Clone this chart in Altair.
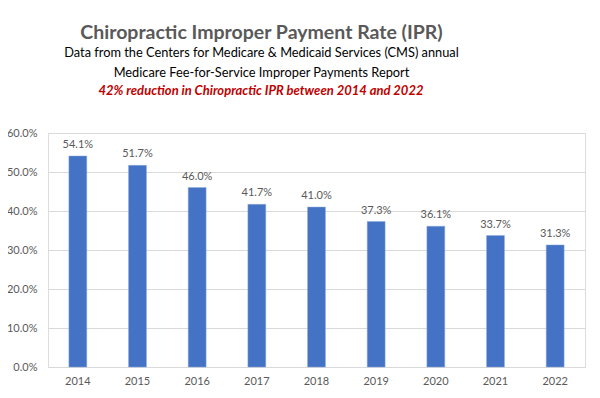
import altair as alt
import pandas as pd

years = ["2014", "2015", "2016", "2017", "2018", "2019", "2020", "2021", "2022"]
rates = [0.541, 0.517, 0.460, 0.417, 0.410, 0.373, 0.361, 0.337, 0.313]
labels = ["54.1%", "51.7%", "46.0%", "41.7%", "41.0%", "37.3%", "36.1%", "33.7%", "31.3%"]

title_text = "Chiropractic Improper Payment Rate (IPR)"
subtitle_lines = [
    "Data from the Centers for Medicare & Medicaid Services (CMS) annual",
    "Medicare Fee-for-Service Improper Payments Report",
]
highlight_text = ["42% reduction in Chiropractic IPR between 2014 and 2022"]

df = pd.DataFrame({"year": years, "rate": rates, "label": labels})
hl = pd.DataFrame({"t": highlight_text})

FONT = "Lato"
GREY = "#595959"

base = alt.Chart(df).encode(
    x=alt.X("year:N", sort=years, title=None,
            scale=alt.Scale(paddingInner=0.7, paddingOuter=0.35),
            axis=alt.Axis(labelAngle=0, ticks=False, domain=True, domainColor="#d9d9d9",
                          labelColor=GREY, labelFontSize=11, labelPadding=8, labelFont=FONT)),
    y=alt.Y("rate:Q", title=None,
            scale=alt.Scale(domain=[0, 0.6]),
            axis=alt.Axis(format=".1%", values=[0, 0.1, 0.2, 0.3, 0.4, 0.5, 0.6],
                          ticks=False, domain=False, gridColor="#d9d9d9",
                          labelColor=GREY, labelFontSize=11, labelPadding=11, labelFont=FONT)),
)

bars = base.mark_bar(color="#4472C4", stroke="#8faadc", strokeWidth=0.5)
texts = base.mark_text(dy=-11, fontSize=11, color=GREY, font=FONT).encode(text="label:N")

red = alt.Chart(hl).mark_text(
    fontSize=13, fontStyle="italic", fontWeight="bold", color="#c00000", font=FONT,
    align="center", baseline="middle"
).encode(x=alt.value(213), y=alt.value(-42), text="t:N")

chart = alt.layer(bars, texts, red).properties(
    width=537, height=234,
    autosize=alt.AutoSizeParams(type="none"),
    padding={"left": 40, "top": 125, "right": 7, "bottom": 23},
    title=alt.TitleParams(
        text=title_text, subtitle=subtitle_lines,
        anchor="middle", dx=-55, offset=4,
        font=FONT, fontSize=19.5, fontWeight="bold", color=GREY,
        subtitleFont=FONT, subtitleFontSize=12.8, subtitleColor="#000000",
        subtitlePadding=4, subtitleLineHeight=20,
    ),
).configure_view(stroke=None).configure(background="white")

chart.save("out.html", embed_options={"renderer": "svg", "actions": False})
